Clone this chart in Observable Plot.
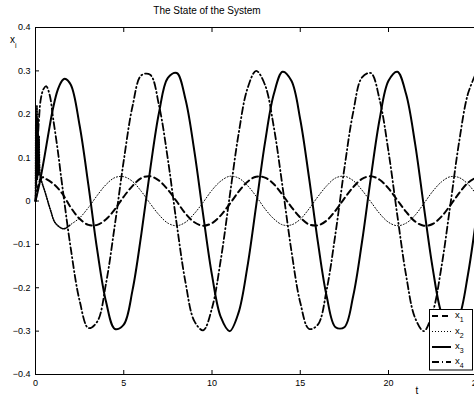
<!DOCTYPE html>
<html><head><meta charset="utf-8">
<script src="https://cdn.jsdelivr.net/npm/d3@7"></script>
<script src="https://cdn.jsdelivr.net/npm/@observablehq/plot@0.6"></script>
<style>
html,body{margin:0;padding:0;background:#fff;overflow:hidden;width:474px;height:396px;}
#wrap{position:relative;width:474px;height:396px;overflow:hidden;}
#wrap svg{position:absolute;left:0;top:0;max-width:none !important;}
</style></head><body><div id="wrap"></div>
<script>
// ---- data ----
const titleText = "The State of the System";
const xLabel = "t";
const yLabel = ["x", "i"];
const xTicks = [0, 5, 10, 15, 20, 25];
const yTicks = [-0.4, -0.3, -0.2, -0.1, 0, 0.1, 0.2, 0.3, 0.4];
const seriesNames = ["1", "2", "3", "4"];

// common sampling grid (t >= 2)
const tGrid = [2,2.5,3,3.5,4,4.5,5,5.5,6,6.5,7,7.5,8,8.5,9,9.5,10,10.5,11,11.5,12,12.5,13,13.5,14,14.5,15,15.5,16,16.5,17,17.5,18,18.5,19,19.5,20,20.5,21,21.5,22,22.5,23,23.5,24,24.5,25];

// x1 (dashed)
const x1EarlyT = [0,0.1,0.2,0.3,0.4,0.5,1.0,1.5];
const x1EarlyV = [0,0.025,0.042,0.051,0.055,0.053,0.040,0.018];
const x1Grid = [-0.015,-0.041,-0.055,-0.055,-0.042,-0.019,0.010,0.035,0.053,0.057,0.047,0.026,-0.001,-0.029,-0.049,-0.057,-0.051,-0.033,-0.007,0.021,0.044,0.056,0.054,0.039,0.014,-0.014,-0.038,-0.054,-0.056,-0.045,-0.022,0.006,0.032,0.051,0.057,0.049,0.029,0.002,-0.025,-0.047,-0.057,-0.053,-0.036,-0.010,0.018,0.042,0.055];

// x2 (dotted)
const x2EarlyT = [0,0.02,0.05,0.08,0.11,0.14,0.17,0.2,0.24,0.28,0.57,0.85,1.13,1.6];
const x2EarlyV = [0,0.2,0.04,0.22,0.05,0.19,0.06,0.15,0.07,0.055,0.017,-0.021,-0.051,-0.064];
const x2Grid = [-0.054,-0.039,-0.015,0.013,0.038,0.054,0.056,0.045,0.022,-0.006,-0.032,-0.051,-0.057,-0.049,-0.029,-0.003,0.025,0.046,0.057,0.053,0.036,0.011,-0.018,-0.041,-0.055,-0.055,-0.042,-0.018,0.010,0.035,0.053,0.057,0.047,0.025,-0.002,-0.029,-0.049,-0.057,-0.051,-0.033,-0.006,0.022,0.044,0.056,0.054,0.039,0.014];

// x3 (solid)
const x3EarlyT = [0,0.25,0.5,0.75,1.0,1.25,1.5,1.66];
const x3EarlyV = [0,0.045,0.1,0.16,0.215,0.255,0.277,0.282];
const x3Grid = [0.268,0.174,0.036,-0.114,-0.233,-0.295,-0.285,-0.205,-0.075,0.073,0.204,0.284,0.295,0.234,0.115,-0.032,-0.171,-0.268,-0.300,-0.258,-0.153,-0.011,0.134,0.246,0.298,0.277,0.188,0.053,-0.095,-0.220,-0.291,-0.291,-0.219,-0.094,0.054,0.189,0.277,0.298,0.246,0.134,-0.012,-0.154,-0.259,-0.300,-0.268,-0.170,-0.031];

// x4 (dash-dot)
const x4EarlyT = [0,0.1,0.2,0.3,0.45,0.6,0.8,1.0,1.25,1.5];
const x4EarlyV = [0,0.11,0.19,0.235,0.258,0.265,0.245,0.19,0.12,0.04];
const x4Grid = [-0.11,-0.23,-0.293,-0.278,-0.189,-0.054,0.093,0.219,0.290,0.291,0.220,0.096,-0.053,-0.188,-0.277,-0.298,-0.247,-0.135,0.010,0.153,0.258,0.300,0.268,0.171,0.032,-0.115,-0.234,-0.295,-0.285,-0.204,-0.074,0.075,0.205,0.285,0.295,0.233,0.114,-0.033,-0.172,-0.269,-0.300,-0.257,-0.152,-0.010,0.136,0.247,0.298];

// ---- styles ----
const styles = {
  "1": {strokeWidth: 2, dash: "6,4"},
  "2": {strokeWidth: 1, dash: "1,2"},
  "3": {strokeWidth: 2, dash: null},
  "4": {strokeWidth: 1.8, dash: "7,3,1,3"}
};

function build(et, ev, gv) {
  const rows = et.map((t, i) => ({t, v: ev[i]}));
  tGrid.forEach((t, i) => rows.push({t, v: gv[i]}));
  return rows;
}
const data = {
  "1": build(x1EarlyT, x1EarlyV, x1Grid),
  "2": build(x2EarlyT, x2EarlyV, x2Grid),
  "3": build(x3EarlyT, x3EarlyV, x3Grid),
  "4": build(x4EarlyT, x4EarlyV, x4Grid)
};

const W = 520, H = 396;
const font = "'Liberation Sans', Arial, Helvetica, sans-serif";
const fmtY = d => d === 0 ? "0" : d3.format(".1f")(d);

const lineMarks = seriesNames.map(k => Plot.line(data[k], {
  x: "t", y: "v", curve: "catmull-rom", stroke: "#000",
  strokeWidth: styles[k].strokeWidth, strokeDasharray: styles[k].dash
}));
// heavier dotted start of x2
lineMarks.push(Plot.line(data["2"].filter(d => d.t <= 2), {
  x: "t", y: "v", curve: "catmull-rom", stroke: "#000", strokeWidth: 1.6, strokeDasharray: "1,1.5"
}));

const chart = Plot.plot({
  width: W, height: H,
  marginLeft: 35, marginRight: W - 476.25, marginTop: 27, marginBottom: 22,
  x: {domain: [0, 25]},
  y: {domain: [-0.4, 0.4]},
  style: {fontFamily: font, fontSize: "9px", color: "#000", background: "transparent", maxWidth: "none"},
  marks: [
    ...lineMarks,
    Plot.frame({stroke: "#000", strokeWidth: 1}),
    Plot.axisX(xTicks, {anchor: "bottom", tickSize: -4, tickPadding: 9, label: null, tickFormat: d => String(d), fill: "#000"}),
    Plot.axisX(xTicks, {anchor: "top", tickSize: -4, label: null, tickFormat: () => ""}),
    Plot.axisY(yTicks, {anchor: "left", tickSize: -4, tickPadding: 9, label: null, tickFormat: fmtY, fill: "#000"})
  ]
});
chart.style.maxWidth = "none";
chart.setAttribute("width", W);
chart.style.width = W + "px";
chart.style.height = H + "px";
document.getElementById("wrap").appendChild(chart);

// ---- overlay: title, axis labels, legend ----
const ov = d3.select("#wrap").append("svg").attr("width", 474).attr("height", 396)
  .style("font-family", font);
ov.append("text").attr("x", 207).attr("y", 13.5).attr("text-anchor", "middle")
  .attr("font-size", 10).text(titleText);
const yl = ov.append("text").attr("x", 10).attr("y", 43).attr("font-size", 10);
yl.append("tspan").text(yLabel[0]);
yl.append("tspan").attr("font-size", 7).attr("dy", 5).text(yLabel[1]);
ov.append("text").attr("x", 417).attr("y", 394).attr("text-anchor", "middle")
  .attr("font-size", 10).text(xLabel);

const lg = ov.append("g");
lg.append("rect").attr("x", 429.5).attr("y", 309.5).attr("width", 43).attr("height", 60.5)
  .attr("fill", "#fff").attr("stroke", "#000").attr("stroke-width", 1);
const rowY = [316, 331.5, 347, 362];
seriesNames.forEach((k, i) => {
  const y = rowY[i];
  lg.append("line").attr("x1", 432).attr("x2", 451).attr("y1", y).attr("y2", y)
    .attr("stroke", "#000").attr("stroke-width", styles[k].strokeWidth)
    .attr("stroke-dasharray", styles[k].dash);
  const t = lg.append("text").attr("x", 455).attr("y", y + 2).attr("font-size", 9.5);
  t.append("tspan").text("x");
  t.append("tspan").attr("font-size", 7).attr("dy", 4).text(k);
});
</script></body></html>
